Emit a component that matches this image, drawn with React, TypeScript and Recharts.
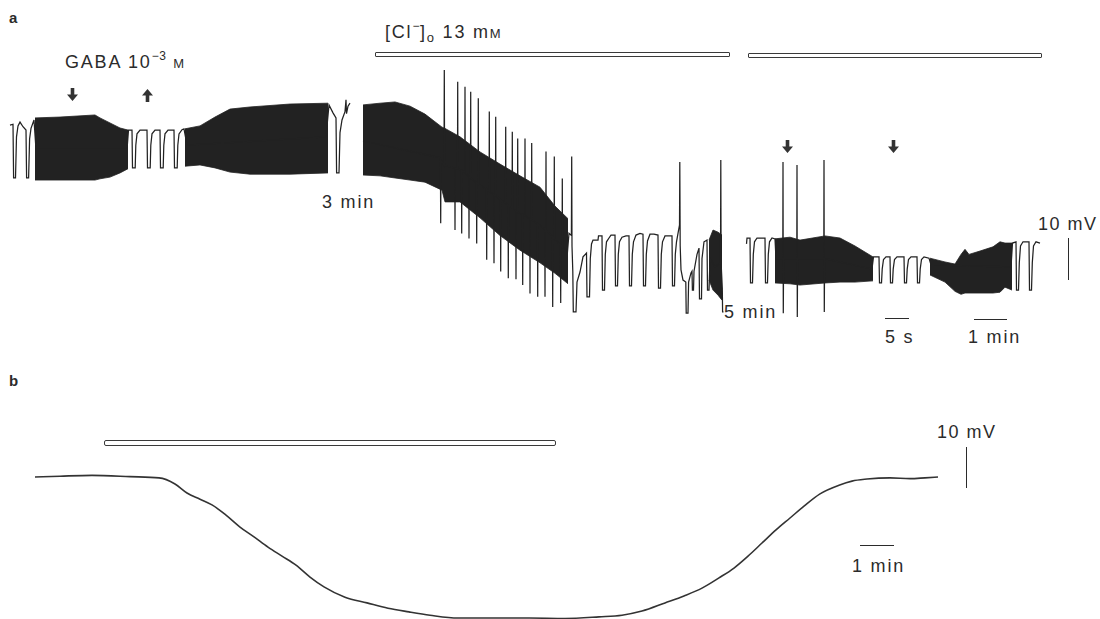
import React from 'react';
import { ComposedChart, Area, Line, XAxis, YAxis } from 'recharts';

// x: chart time units (recording position), y: membrane potential deflection in mV

// panel a – dense firing shown as min/max envelope [t, low, high]
const bandA1: [number, number, number][] = [
    [35, -14.3, 0.5], [60, -14.3, 0.7], [95, -14.3, 1.2], [100, -14.0, 0.5], [110, -13.6, -0.7], [120, -12.6, -1.9], [128, -11.6, -2.4],
];
const bandA2: [number, number, number][] = [
    [185, -11.0, -2.1], [200, -10.7, -1.4], [215, -11.4, 0.7], [230, -12.4, 2.6], [250, -12.9, 3.1], [290, -12.9, 3.8], [328, -12.6, 4.0],
];
const bandA3: [number, number, number][] = [
    [363, -13.1, 3.6], [380, -13.3, 4.0], [395, -13.8, 4.3], [410, -14.3, 3.3], [425, -14.8, 1.4], [442, -16.7, -1.7], [445, -19.5, -2.0],
    [460, -19.5, -4.0], [480, -23.3, -7.6], [500, -27.5, -10.5], [520, -31.0, -13.3], [540, -34.0, -16.0], [555, -36.5, -20.5], [568, -39.0, -23.5],
];
const bandA4: [number, number, number][] = [
    [709, -38.1, -28.6], [713, -40.5, -26.2], [718, -41.7, -26.7], [722, -42.9, -27.4],
];
const bandA5: [number, number, number][] = [
    [775, -38.8, -28.3], [790, -39.0, -27.9], [800, -39.3, -28.6], [825, -38.8, -27.6], [840, -38.6, -28.1], [855, -38.6, -30.0], [873, -38.3, -32.6],
];
const bandA6: [number, number, number][] = [
    [930, -36.9, -32.9], [945, -38.6, -33.8], [955, -40.8, -34.3], [961, -41.5, -32.0], [965, -41.2, -30.8], [969, -41.2, -32.0],
    [980, -41.2, -31.2], [993, -41.2, -30.2], [1000, -41.0, -29.0], [1005, -39.8, -29.3], [1012, -40.5, -29.3],
];

// panel a – trace segments with pulses and spikes [t, mV]
const traceA1: [number, number][] = [
    [10, -1.2], [13, -1.0], [13.6, -13.8], [15.5, -13.8], [16.5, -4.0], [18, -1.4], [20, -0.5], [23, -1.6], [26, -2.4], [26.6, -13.8], [28.6, -13.8], [29.6, -4.5], [31, -2.0], [34, 0],
    [36, -7], [127, -7], [128.5, -2.4],
    [132, -2.4], [132.5, -11.4], [135.2, -11.4], [135.8, -6.0], [137, -3.3], [140, -2.4],
    [147, -2.4], [147.5, -11.4], [150.2, -11.4], [150.8, -6.0], [152, -3.3], [155, -2.4],
    [160, -2.4], [160.5, -11.4], [163.2, -11.4], [163.8, -6.0], [165, -3.3], [168, -2.4],
    [174, -2.4], [174.5, -11.4], [177.2, -11.4], [177.8, -6.0], [179, -3.3], [182, -2.3], [184, -2.1],
    [187, -6], [326, -4],
    [329, 3.6], [333, 1.7], [336, 0.5], [336.6, -12.6], [339, -12.6], [340, -3], [342, 0], [345, 2.0], [346, 4.8], [346.5, 1.5], [348, 3.3], [350, 4.0],
];
const traceA2: [number, number][] = [
    [363, -5], [440.4, -9], [440.7, -24.6], [441, -9.5], [444, -10.8], [444.3, 11.9], [444.6, -10.8],
    [454.8, -11.5], [455, -26.2], [455.2, -11.5], [457.5, -11.6], [457.7, 9.1], [457.9, -11.6],
    [461.5, -12], [461.7, -27.0], [461.9, -12], [464.8, -12.5], [465, 7.9], [465.2, -12.5],
    [468.8, -13.5], [469, -28.2], [469.2, -13.5], [470.5, -13.8], [470.7, 6.7], [470.9, -13.8],
    [476.5, -15], [476.7, -29.4], [476.9, -15], [478.1, -15.3], [478.3, 5.2], [478.5, -15.3],
    [486.5, -16.5], [486.7, -33.3], [486.9, -16.5], [489.1, -17], [489.3, 2.0], [489.5, -17],
    [493.8, -17.8], [494, -34.1], [494.2, -17.8], [495.5, -18], [495.7, 0.8], [495.9, -18],
    [500.5, -19], [500.7, -36.1], [500.9, -19], [505.5, -19.8], [505.7, -1.6], [505.9, -19.8],
    [508.1, -20.3], [508.3, -37.7], [508.5, -20.3], [512.1, -21], [512.3, -2.8], [512.5, -21],
    [515.8, -21.6], [516, -37.9], [516.2, -21.6], [517.5, -21.9], [517.7, -4.4], [517.9, -21.9],
    [522.5, -22.5], [522.7, -39.3], [522.9, -22.5], [524.8, -22.8], [525, -4.4], [525.2, -22.8],
    [529.8, -23.6], [530, -41.3], [530.2, -23.6], [531.5, -23.8], [531.7, -5.5], [531.9, -23.8],
    [537.5, -24.7], [537.7, -42.1], [537.9, -24.7], [544.8, -26], [545, -42.1], [545.2, -26], [545.8, -26.2], [546, -7.5], [546.2, -26.2],
    [552.5, -27.8], [552.7, -44.5], [552.9, -27.8], [554.1, -28.2], [554.3, -8.7], [554.5, -28.2],
    [560.5, -29.8], [560.7, -43.6], [560.9, -29.8], [562.1, -30.2], [562.3, -13.9], [562.5, -30.2],
    [567.5, -31.3], [569, -27], [571.4, -27.5], [571.7, -8.7], [572, -30], [572.8, -36], [573.3, -45.7], [576, -45.7], [577, -38.6],
    [580, -36.2], [583, -32.6], [586.5, -31.7], [587, -42.1], [589.5, -42.1], [590.3, -33], [591.5, -29.5], [593, -28.6], [598, -28.6], [598.5, -27.6],
    [602, -27.6], [602.5, -40.5], [604.5, -40.5], [605.3, -32], [606.5, -29], [609, -28.1], [611, -27.4],
    [615, -27.4], [615.5, -39.5], [617.5, -39.5], [618.3, -32], [619.5, -29], [622, -27.9], [626, -27.6],
    [629, -27.6], [629.5, -39.5], [631.5, -39.5], [632.3, -32], [633.5, -29], [636, -27.4], [640, -27.0],
    [643, -27.2], [643.5, -39.5], [645.5, -39.5], [646.3, -32], [647.5, -28.8], [650, -27.2], [654, -27.2],
    [658, -27.4], [658.5, -40.0], [660.5, -40.0], [661.3, -32], [662.5, -29], [665, -27.6], [669, -27.6],
    [672, -27.6], [672.5, -39.5], [674.5, -39.5], [675.3, -32], [676.5, -29], [678, -27],
    [679.5, -25], [679.8, -10.0], [680.2, -30], [681, -35.7], [683, -38.1], [685.8, -38.6], [686.2, -46.0], [688, -46.0], [688.6, -38.6],
    [691, -36.4], [692, -36.0], [692.4, -40.5], [693.5, -40.5], [694, -36], [697, -32], [699, -30.5], [699.5, -42.6], [701.5, -42.6],
    [702, -33], [704, -29.0], [707, -28.6], [707.5, -40.5], [709, -40.5], [710, -33], [715, -35], [720.5, -34], [720.8, -9.5], [721.1, -34],
    [722.3, -40], [722.6, -45.7], [723.5, -45.7],
];
const traceA3: [number, number][] = [
    [746.5, -29.5], [747, -28.1], [750, -28.1], [750.5, -38.8], [752.5, -38.8], [753.3, -32], [754.5, -29], [757, -28.1],
    [765, -28.1], [765.5, -38.8], [767.5, -38.8], [768.3, -32], [769.5, -29], [772, -28.1], [775, -28.3],
    [776, -33], [782.8, -33], [783, -10.0], [783.3, -46.0], [783.6, -33], [796.8, -33], [797, -10.7], [797.3, -46.9], [797.6, -33],
    [823.8, -33], [824, -9.5], [824.3, -45.7], [824.6, -33], [872, -35.5],
    [873.5, -32.6], [879, -32.6], [879.5, -38.8], [881.5, -38.8], [882.2, -35.5], [883.5, -33.2], [886, -32.6],
    [890, -32.6], [890.5, -38.8], [892.5, -38.8], [893.2, -35.5], [894.5, -33.2], [897, -32.6],
    [904, -32.6], [904.5, -38.8], [906.5, -38.8], [907.2, -35.5], [908.5, -33.2], [911, -32.6],
    [917, -32.6], [917.5, -38.8], [919.5, -38.8], [920.2, -35.5], [921.5, -33.2], [924, -32.6],
    [929, -32.9], [931, -34.5], [1011, -35],
    [1012.5, -29.3], [1016, -29.0], [1016.5, -40.5], [1018.5, -40.5], [1019.3, -34], [1020.5, -30], [1023, -29.0],
    [1029, -29.0], [1029.5, -40.5], [1031.5, -40.5], [1032.3, -34], [1033.5, -30], [1036, -29.0], [1040, -29.3],
];

// panel b – slow GABA hyperpolarization [t, mV]
const traceB: [number, number][] = [
    [35, 0], [60, 0.2], [92, 0.4], [130, 0.1], [159, -0.2], [175, -1.7], [187, -3.9], [200, -5.4], [212, -6.8], [226, -9.3],
    [240, -12.2], [254, -14.6], [268, -17.1], [282, -19.3], [296, -21.5], [310, -24.4], [324, -26.8], [345, -29.3], [367, -30.7],
    [388, -32.0], [409, -32.9], [430, -33.7], [458, -34.4], [490, -34.4], [529, -34.4], [565, -34.5], [599, -34.1], [622, -33.7],
    [642, -32.7], [665, -30.7], [684, -29.0], [702, -27.1], [719, -24.6], [734, -22.2], [748, -19.3], [762, -16.1], [776, -12.9],
    [790, -10.0], [804, -7.1], [820, -4.1], [839, -2.0], [852, -1.0], [867, -0.5], [890, -0.2], [910, -0.4], [925, -0.2], [938, 0],
];

const toBand = (arr: [number, number, number][]) => arr.map(([t, lo, hi]) => ({ t, r: [lo, hi] }));
const toPts = (arr: [number, number][]) => arr.map(([t, v]) => ({ t, v }));

const bandsA = [bandA1, bandA2, bandA3, bandA4, bandA5, bandA6].map(toBand);
const tracesA = [traceA1, traceA2, traceA3].map(toPts);

const FONT = '"Liberation Sans", Arial, Helvetica, sans-serif';
const INK = '#2b2b2b';
const TRACE = '#222';

const Label = ({ x, base, size = 18, bold = false, spacing = 1.8, children }: any) => (
    <div
        style={{
            position: 'absolute',
            left: x,
            top: base - 0.847 * size,
            fontSize: size,
            lineHeight: `${size}px`,
            fontWeight: bold ? 700 : 400,
            letterSpacing: spacing,
            color: INK,
            whiteSpace: 'nowrap',
            fontFamily: FONT,
        }}
    >
        {children}
    </div>
);

const Arrow = ({ x, y, up = false }: any) => (
    <svg style={{ position: 'absolute', left: x, top: y }} width={11} height={13} viewBox="0 0 11 13">
        <path
            d={up ? 'M5.5,0 L11,6.5 H7.3 V13 H3.7 V6.5 H0 Z' : 'M3.7,0 H7.3 V6.5 H11 L5.5,13 L0,6.5 H3.7 Z'}
            fill="#333"
        />
    </svg>
);

const HBar = ({ x, y, w }: any) => (
    <div style={{ position: 'absolute', left: x, top: y, width: w, height: 0, borderTop: `1.6px solid ${INK}` }} />
);
const VBar = ({ x, y, h }: any) => (
    <div style={{ position: 'absolute', left: x, top: y, width: 0, height: h, borderLeft: `1.6px solid ${INK}` }} />
);
const DoubleBar = ({ x, y, w, h, radius = 1 }: any) => (
    <div
        style={{
            position: 'absolute',
            left: x,
            top: y,
            width: w,
            height: h,
            border: '1.4px solid #3a3a3a',
            borderRadius: radius,
            boxSizing: 'border-box',
        }}
    />
);

const sup = { fontSize: 12, position: 'relative' as const, top: -8, letterSpacing: 0.5 };
const sub = { fontSize: 13, position: 'relative' as const, top: 4 };

export default function App() {
    return (
        <div style={{ position: 'absolute', left: 0, top: 0, width: 1100, height: 619, background: '#fff', overflow: 'hidden' }}>
            {/* Panel a */}
            <div style={{ position: 'absolute', left: 0, top: 0 }}>
                <ComposedChart width={1100} height={340} margin={{ top: 0, right: 0, bottom: 0, left: 0 }}>
                    <XAxis type="number" dataKey="t" domain={[0, 1100]} allowDataOverflow hide />
                    <YAxis type="number" domain={[-52.381, 28.571]} allowDataOverflow hide />
                    {bandsA.map((b, i) => (
                        <Area
                            key={`band${i}`}
                            data={b}
                            dataKey="r"
                            type="linear"
                            stroke={TRACE}
                            strokeWidth={0.8}
                            fill={TRACE}
                            fillOpacity={1}
                            dot={false}
                            activeDot={false}
                            isAnimationActive={false}
                        />
                    ))}
                    {tracesA.map((d, i) => (
                        <Line
                            key={`trace${i}`}
                            data={d}
                            dataKey="v"
                            type="linear"
                            stroke={TRACE}
                            strokeWidth={1.25}
                            dot={false}
                            activeDot={false}
                            isAnimationActive={false}
                        />
                    ))}
                </ComposedChart>
            </div>

            {/* Panel b */}
            <div style={{ position: 'absolute', left: 0, top: 370 }}>
                <ComposedChart width={1100} height={249} margin={{ top: 0, right: 0, bottom: 0, left: 0 }}>
                    <XAxis type="number" dataKey="t" domain={[0, 1100]} allowDataOverflow hide />
                    <YAxis type="number" domain={[-34.63, 26.1]} allowDataOverflow hide />
                    <Line
                        data={toPts(traceB)}
                        dataKey="v"
                        type="monotone"
                        stroke="#333"
                        strokeWidth={1.6}
                        dot={false}
                        activeDot={false}
                        isAnimationActive={false}
                    />
                </ComposedChart>
            </div>

            {/* Annotations, panel a */}
            <Label x={9} base={23} size={15} bold spacing={0}>a</Label>
            <Label x={65} base={68}>
                GABA 10<span style={sup}>−3</span> <span style={{ fontSize: 13 }}>M</span>
            </Label>
            <Arrow x={67} y={88} />
            <Arrow x={142} y={89} up />
            <Label x={385} base={38}>
                [Cl<span style={sup}>−</span>]<span style={sub}>o</span> 13 m<span style={{ fontSize: 13 }}>M</span>
            </Label>
            <DoubleBar x={375} y={52} w={355} h={5} />
            <DoubleBar x={748} y={53} w={294} h={5} />
            <Label x={322} base={208}>3 min</Label>
            <Label x={724} base={318}>5 min</Label>
            <Arrow x={782} y={140} />
            <Arrow x={888} y={140} />
            <Label x={1038} base={230} spacing={1.5}>10 mV</Label>
            <VBar x={1068} y={238} h={42} />
            <HBar x={885} y={318} w={24} />
            <Label x={885} base={343}>5 s</Label>
            <HBar x={974} y={319} w={33} />
            <Label x={968} base={343}>1 min</Label>

            {/* Annotations, panel b */}
            <Label x={9} base={386} size={15} bold spacing={0}>b</Label>
            <DoubleBar x={104} y={440} w={452} h={6} radius={2} />
            <Label x={937} base={438} spacing={1.5}>10 mV</Label>
            <VBar x={966} y={447} h={41} />
            <HBar x={860} y={545} w={34} />
            <Label x={852} base={572}>1 min</Label>
        </div>
    );
}
